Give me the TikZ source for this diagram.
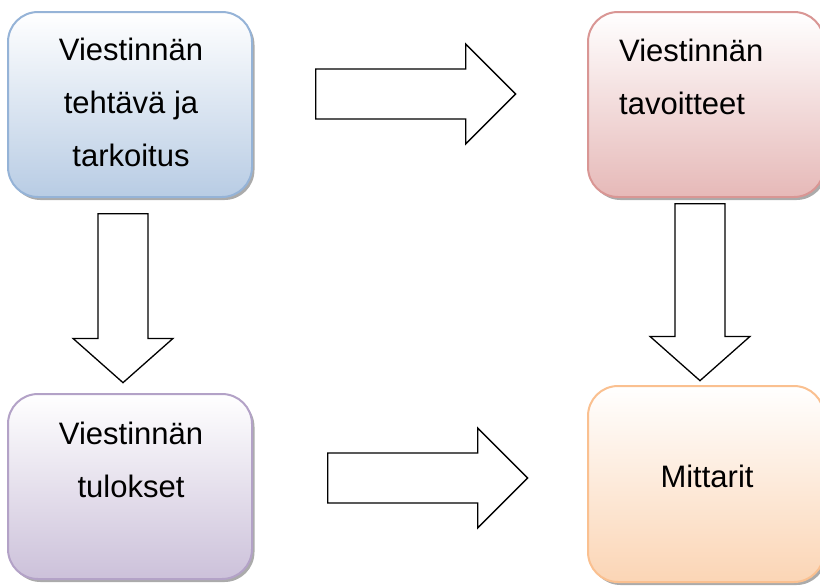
\documentclass[tikz,border=0pt]{standalone}
\usepackage{fontspec}
\setmainfont{Liberation Sans}
\usetikzlibrary{positioning,shapes.arrows,shadows}

\definecolor{sinireuna}{HTML}{95B3D7}
\definecolor{sinitayte}{HTML}{B8CCE4}
\definecolor{punareuna}{HTML}{D99694}
\definecolor{punatayte}{HTML}{E6B9B8}
\definecolor{violettireuna}{HTML}{B3A2C7}
\definecolor{violettitayte}{HTML}{CCC1DA}
\definecolor{oranssireuna}{HTML}{FAC090}
\definecolor{oranssitayte}{HTML}{FBD5B5}

\begin{document}
\begin{tikzpicture}[x=1pt,y=-1pt,
	laatikko/.style={rectangle, rounded corners=30pt, line width=2pt, inner sep=0pt,
		minimum width=244pt, minimum height=185pt, top color=white,
		drop shadow={shadow xshift=2.5pt, shadow yshift=-3pt, fill=black!55, opacity=0.6}},
	teksti/.style={inner sep=0pt, align=center, font=\fontsize{31}{53}\selectfont},
	nuoli/.style={single arrow, draw, fill=white, line width=1.3pt, inner sep=0pt,
		text height=24.3pt, text depth=24.3pt, single arrow head extend=25pt}]

	\useasboundingbox (0,0) rectangle (820,587);

	\node[laatikko, draw=sinireuna, bottom color=sinitayte] (tehtava) at (130,104.5) {};
	\node[laatikko, draw=punareuna, bottom color=punatayte, minimum width=236pt] (tavoitteet) at (706,104.5) {};
	\node[laatikko, draw=violettireuna, bottom color=violettitayte] (tulokset) at (130,486.5) {};
	\node[laatikko, draw=oranssireuna, bottom color=oranssitayte, minimum width=236pt, minimum height=196pt] (mittarit) at (706,484) {};

	\node[teksti, anchor=north] (tehtavateksti) at (131,38) {Viestinnän\\tehtävä ja\\tarkoitus};
	\node[teksti, anchor=north west, align=left] (tavoitteetteksti) at (619,39) {Viestinnän\\tavoitteet};
	\node[teksti, anchor=north] (tuloksetteksti) at (131,422) {Viestinnän\\tulokset};
	\node[teksti, anchor=north] (mittariteksti) at (707,465) {Mittarit};

	\node[nuoli, minimum height=200pt, single arrow tip angle=90, anchor=tail] (ylanuoli) at (315,94) {};
	\node[nuoli, minimum height=200pt, single arrow tip angle=90, anchor=tail] (alanuoli) at (327,478) {};
	\node[nuoli, minimum height=169pt, single arrow tip angle=97, rotate=-90, anchor=tail] (vasennuoli) at (123,213) {};
	\node[nuoli, minimum height=177pt, single arrow tip angle=97, rotate=-90, anchor=tail] (oikeanuoli) at (700,203) {};
\end{tikzpicture}
\end{document}
